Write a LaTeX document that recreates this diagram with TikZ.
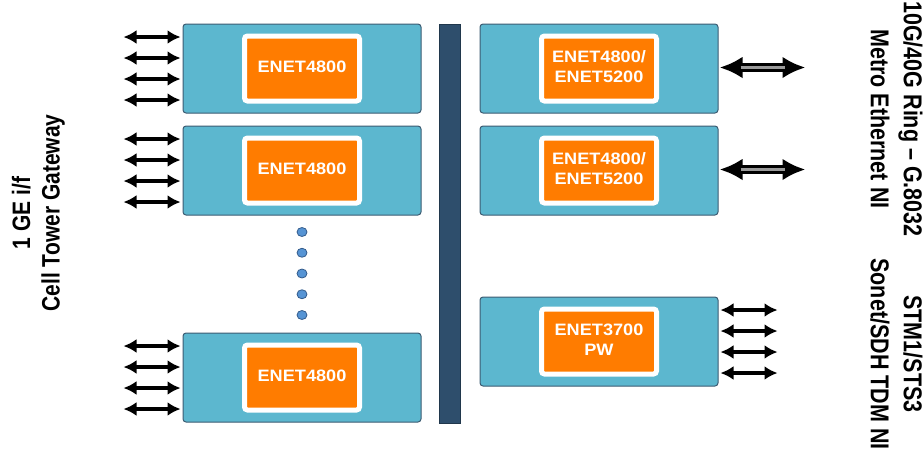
\documentclass[tikz,border=0pt]{standalone}
\usepackage{fontspec}
\setmainfont{Liberation Sans}
\usepackage{tikz}
\usetikzlibrary{arrows.meta, shapes.geometric}
\usetikzlibrary{positioning}
\usepackage{color}
\definecolor{cardblue}{RGB}{92,183,207}
\definecolor{cardedge}{RGB}{60,92,114}
\definecolor{chiporange}{RGB}{255,124,0}
\definecolor{busnavy}{RGB}{46,78,108}
\definecolor{dotblue}{RGB}{86,148,212}
\definecolor{dotedge}{RGB}{52,92,140}
\newcommand{\chiplabel}[1]{\scalebox{1.1}[1]{\begin{tabular}{c}#1\end{tabular}}}
\newcommand{\sidelabel}[1]{\scalebox{1}[1.2]{\begin{tabular}{c}#1\end{tabular}}}
\tikzset{
	card/.style={
			rectangle, rounded corners=3pt,
			draw=cardedge, line width=1pt, fill=cardblue, minimum width=238pt, minimum height=89pt},
	chip/.style={
			rectangle, rounded corners=3pt,
			draw=white, line width=5pt, fill=chiporange, text=white,
			font=\fontsize{16.5}{20}\selectfont\bfseries,
			minimum width=115pt, minimum height=65pt, inner sep=0pt, text centered},
	bus/.style={
			rectangle, draw=busnavy!70!black, line width=1pt, fill=busnavy,
			minimum width=21pt, minimum height=399pt},
	moredot/.style={
			ellipse, draw=dotedge, line width=0.8pt, fill=dotblue,
			minimum width=10pt, minimum height=9pt, inner sep=0pt},
	port/.style={{Latex[length=13pt,width=14pt]}-{Latex[length=13pt,width=14pt]}, line width=4.2pt},
	trunk/.style={{Latex[length=23pt,width=22pt]}-{Latex[length=23pt,width=22pt]}, line width=8.5pt},
		}

\begin{document}
\begin{tikzpicture} [x=1pt, y=-1pt]
	\useasboundingbox (0,0) rectangle (924,448);

	% line cards, left column
	\node[card] (b1) at (302,68.5) {};
	\node[card, below=12pt of b1] (b2) {};
	\node[card] (b3) at (302,377.5) {};

	% line cards, right column
	\node[card, right=58pt of b1] (r1) {};
	\node[card, below=12pt of r1] (r2) {};
	\node[card] (r3) at (599,341.5) {};

	\node[bus] (bus) at (449.5,223.5) {};

	\node[chip] (b1chip) at (b1) {\chiplabel{ENET4800}};
	\node[chip] (b2chip) at (b2) {\chiplabel{ENET4800}};
	\node[chip] (b3chip) at (b3) {\chiplabel{ENET4800}};
	\node[chip] (r1chip) at (r1) {\chiplabel{ENET4800/\\ENET5200}};
	\node[chip] (r2chip) at (r2) {\chiplabel{ENET4800/\\ENET5200}};
	\node[chip] (r3chip) at (r3) {\chiplabel{ENET3700\\PW}};

	% more cards
	\foreach \k in {0,...,4}
		\node[moredot] (gap\k) at (302,{232+20.75*\k}) {};

	% 1 GE ports
	\foreach \b in {b1,b2,b3}{
		\foreach \dy [count=\i] in {31.5,10.5,-10.5,-31.5}{
			\coordinate (\b-in\i) at ([xshift=-2pt, yshift=\dy pt]\b.west);
			\coordinate (\b-out\i) at ([xshift=-57pt]\b-in\i);
			\draw[port] (\b-out\i) -- (\b-in\i);
		}
	}

	% TDM ports
	\foreach \dy [count=\i] in {31.5,10.5,-10.5,-31.5}{
		\coordinate (r3-in\i) at ([xshift=2pt, yshift=\dy pt]r3.east);
		\coordinate (r3-out\i) at ([xshift=57pt]r3-in\i);
		\draw[port] (r3-in\i) -- (r3-out\i);
	}

	% ring uplinks
	\foreach \r in {r1,r2}{
		\coordinate (\r-in) at ([xshift=1pt, yshift=1pt]\r.east);
		\coordinate (\r-out) at ([xshift=86pt]\r-in);
		\draw[trunk] (\r-in) -- (\r-out);
		\draw[line width=3.5pt, draw=black!40, shorten <=21pt, shorten >=21pt] (\r-in) -- (\r-out);
	}

	\node[rotate=90, font=\fontsize{21}{24.5}\selectfont\bfseries] (cellgw) at (39,213)
		{\sidelabel{1 GE i/f\\Cell Tower Gateway}};
	\node[rotate=-90, font=\fontsize{21.5}{27.5}\selectfont\bfseries] (metro) at (894,119)
		{\sidelabel{10G/40G Ring -- G.8032\\Metro Ethernet NI}};
	\node[rotate=-90, font=\fontsize{21.5}{27.5}\selectfont\bfseries] (tdm) at (894,354)
		{\sidelabel{STM1/STS3\\Sonet/SDH TDM NI}};
%
%
\end{tikzpicture}
\end{document}
